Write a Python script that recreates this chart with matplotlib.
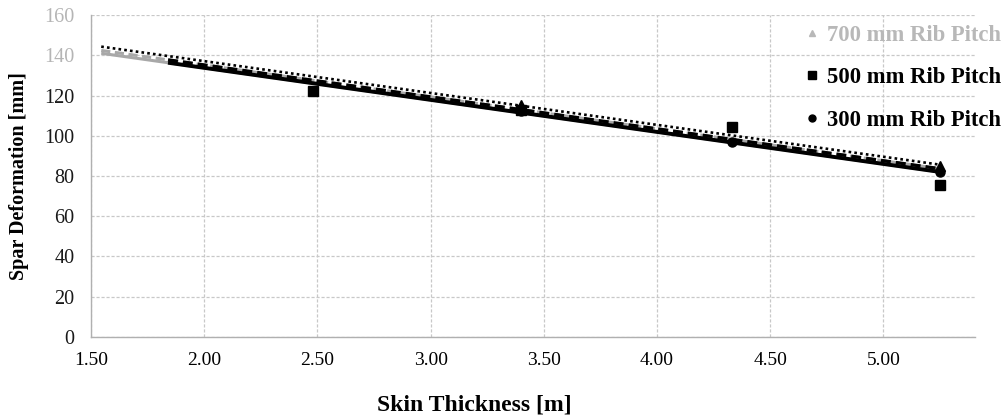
import numpy as np
import matplotlib
matplotlib.use("Agg")
import matplotlib.pyplot as plt

plt.rcParams['font.family'] = ['Liberation Serif', 'DejaVu Serif']

# measured points
x700 = [3.40, 5.25]
y700 = [115.3, 85.0]
x500 = [2.48, 3.40, 4.33, 5.25]
y500 = [122.2, 113.0, 104.5, 75.5]
x300 = [3.40, 4.33, 5.25]
y300 = [112.2, 97.1, 82.2]

# trendline ends
tr_x = [1.545, 5.25]
tr700 = [144.3, 85.6]
tr500 = [142.4, 83.6]
tr300 = [141.0, 82.0]
tr300_black_from = 1.84

xticks = [1.5, 2.0, 2.5, 3.0, 3.5, 4.0, 4.5, 5.0]
yticks = [0, 20, 40, 60, 80, 100, 120, 140, 160]

fig = plt.figure(figsize=(10.07, 4.18), dpi=100)
ax = fig.add_axes([0.0904, 0.194, 0.878, 0.770])

# trendlines
ax.plot(tr_x, tr300, color='#a8a8a8', lw=2.2, solid_capstyle='butt', zorder=2)
ax.plot(tr_x, tr500, color='#a8a8a8', lw=2.2, ls=(0, (3, 1.5)), zorder=2)
xb = [tr300_black_from, tr_x[1]]
yb = list(np.interp(xb, tr_x, tr300))
yb5 = list(np.interp(xb, tr_x, tr500))
ax.plot(xb, yb5, color='black', lw=2.4, ls=(0, (3, 1.5)), zorder=3)
ax.plot(xb, yb, color='black', lw=2.8, solid_capstyle='butt', zorder=4)
ax.plot(tr_x, tr700, color='black', lw=1.9, ls=(0, (1, 1.2)), zorder=5)

# markers
ax.plot(x700, y700, ls='none', marker='^', ms=7, color='black', zorder=6,
        label='700 mm Rib Pitch')
ax.plot(x500, y500, ls='none', marker='s', ms=7.5, color='black', zorder=6,
        label='500 mm Rib Pitch')
ax.plot(x300, y300, ls='none', marker='o', ms=6.5, color='black', zorder=6,
        label='300 mm Rib Pitch')

ax.set_xlim(1.5, 5.405)
ax.set_ylim(0, 160)
ax.set_xticks(xticks)
ax.set_yticks(yticks)
ax.set_xticklabels(['%.2f' % v for v in xticks], fontsize=14)
ax.set_yticklabels([str(v) for v in yticks], fontsize=14.5)
for lab, v in zip(ax.get_yticklabels(), yticks):
    lab.set_color('#b5b5b5' if v >= 140 else '#1a1a1a')
ax.tick_params(length=0)
ax.tick_params(axis='y', pad=12)
ax.tick_params(axis='x', pad=11)

ax.grid(True, color='#c8c8c8', ls=(0, (2.5, 1.5)), lw=0.9)
ax.set_axisbelow(True)
for s in ['top', 'right']:
    ax.spines[s].set_visible(False)
for s in ['left', 'bottom']:
    ax.spines[s].set_color('#b0b0b0')
    ax.spines[s].set_linewidth(1.0)

ax.set_xlabel('Skin Thickness [m]', fontsize=17, fontweight='bold')
ax.xaxis.set_label_coords(0.433, -0.18)
ax.set_ylabel('Spar Deformation [mm]', fontsize=14.5, fontweight='bold', labelpad=11)

leg = fig.legend(loc='upper right', bbox_to_anchor=(1.005, 0.968), frameon=False,
                 prop={'weight': 'bold', 'size': 16.3}, handlelength=0.5,
                 handletextpad=0.4, labelspacing=0.95, borderpad=0)
cols = ['#b8b8b8', 'black', 'black']
for t, c in zip(leg.get_texts(), cols):
    t.set_color(c)
handles = leg.legend_handles
handles[0].set_color('#b8b8b8')
handles[0].set_markersize(5)
handles[1].set_markersize(6)
handles[2].set_markersize(5)

fig.savefig('out.png', dpi=100)
